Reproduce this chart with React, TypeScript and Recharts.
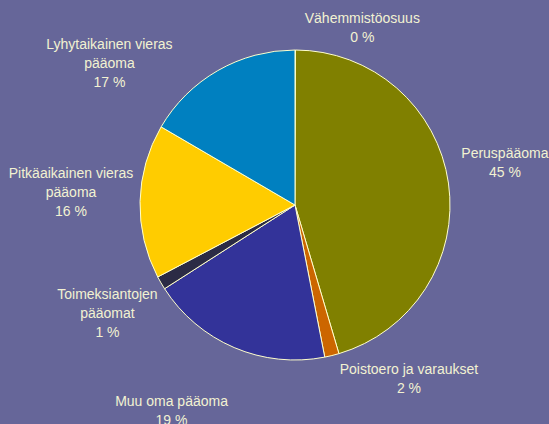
import React from 'react';
import { PieChart, Pie, Cell } from 'recharts';

const names = [
    'Vähemmistöosuus',
    'Peruspääoma',
    'Poistoero ja varaukset',
    'Muu oma pääoma',
    'Toimeksiantojen pääomat',
    'Pitkäaikainen vieras pääoma',
    'Lyhytaikainen vieras pääoma',
];
const nameLines = [
    ['Vähemmistöosuus'],
    ['Peruspääoma'],
    ['Poistoero ja varaukset'],
    ['Muu oma pääoma'],
    ['Toimeksiantojen', 'pääomat'],
    ['Pitkäaikainen vieras', 'pääoma'],
    ['Lyhytaikainen vieras', 'pääoma'],
];
const values = [0.05, 45.4, 1.5, 19.0, 1.4, 16.1, 16.6];
const percents = [0, 45, 2, 19, 1, 16, 17];

const colors = ['#9999cc', '#808000', '#cc6600', '#333399', '#2b2b45', '#ffcc00', '#0080c0'];
// label nudges from the default radial spot (Excel-style "best fit" placement)
const labelNudge: [number, number][] = [
    [67, 32],
    [2, -13],
    [64, -30],
    [-41, 12],
    [-6, 2],
    [-14, -8],
    [-81, 40],
];

const data = names.map((name, i) => ({ name, value: values[i] }));

const RAD = Math.PI / 180;
const TEXT = '#f2f2d2';

const renderLabel = (props: any) => {
    const { cx, cy, midAngle, outerRadius, index } = props;
    const r = outerRadius + 55;
    const x = cx + r * Math.cos(-midAngle * RAD) + labelNudge[index][0];
    const y = cy + r * Math.sin(-midAngle * RAD) + labelNudge[index][1];
    const lines = [...nameLines[index], `${percents[index]} %`];
    const lh = 19;
    const top = y - ((lines.length - 1) * lh) / 2;
    return (
        <text
            x={x}
            y={top}
            fill={TEXT}
            textAnchor="middle"
            dominantBaseline="central"
            fontFamily="'Liberation Sans', Arial, sans-serif"
            fontSize={14}
        >
            {lines.map((l, i) => (
                <tspan key={i} x={x} y={top + i * lh}>
                    {l}
                </tspan>
            ))}
        </text>
    );
};

const App: React.FC = () => {
    return (
        <div style={{ position: 'absolute', left: 0, top: 0, width: 549, height: 424, background: '#666699' }}>
            <PieChart width={549} height={424} margin={{ top: 0, right: 0, bottom: 0, left: 0 }}>
                <Pie
                    data={data}
                    dataKey="value"
                    nameKey="name"
                    cx={295}
                    cy={205}
                    outerRadius={155}
                    startAngle={90}
                    endAngle={-270}
                    stroke="#ffffcc"
                    strokeWidth={1}
                    label={renderLabel}
                    labelLine={false}
                    isAnimationActive={false}
                >
                    {data.map((d, i) => (
                        <Cell key={d.name} fill={colors[i]} />
                    ))}
                </Pie>
            </PieChart>
        </div>
    );
};

export default App;
